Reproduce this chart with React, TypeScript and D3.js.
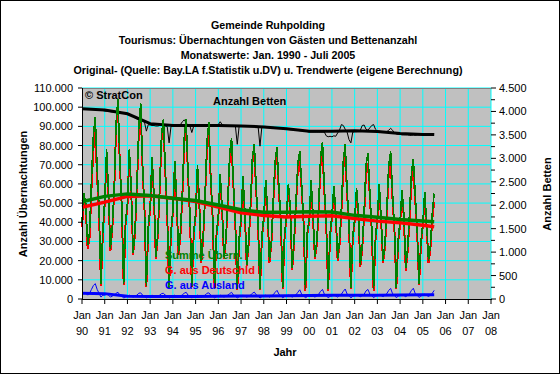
import React from 'react';
import * as d3 from 'd3';

// Monthly values in thousands, Jan 1990 - Jul 2005 (one row per year)
const germanGuests: number[][] = [
  [37.5, 52, 47, 26, 32, 57, 78, 87, 63, 45, 7, 34],
  [50, 75.5, 54, 25, 36.5, 56, 89, 100.5, 70, 48.5, 7.5, 39],
  [48.5, 76, 56.5, 23, 34.5, 58, 87, 98.8, 68, 46.5, 6.5, 37],
  [46.5, 72, 53.5, 21, 32.5, 56, 83.2, 91, 66, 44.5, 5.5, 35],
  [44.5, 70, 50.5, 23, 33.5, 53.8, 81, 90.5, 64, 43.5, 6.5, 33.8],
  [43.5, 68, 48.5, 19, 31.5, 53, 79, 88.8, 62, 42.5, 5.5, 32.8],
  [42.5, 63, 46.5, 21, 30.5, 50, 73.2, 80.5, 58, 38.5, 4.5, 30.8],
  [40.5, 62, 44.5, 17, 28.5, 48, 71, 77.4, 55.8, 38.5, 4.5, 31.8],
  [41.4, 60, 45.4, 19, 28.4, 49.8, 68.5, 74.5, 55.5, 40.4, 5.4, 32.7],
  [42.4, 58, 46.4, 15, 29.4, 48.8, 67.5, 72.2, 57.5, 40.4, 4.4, 33.7],
  [40.4, 59.8, 42.4, 21, 28.4, 47.5, 70, 77, 55.5, 38.2, 4.4, 32.6],
  [42.4, 56.8, 44.4, 20, 28.2, 45.5, 68, 75.8, 54.4, 38.2, 5.4, 31.6],
  [40.3, 55.8, 43.3, 16.8, 26.2, 43.5, 65.8, 71, 53.4, 36.2, 4.3, 30.5],
  [41.2, 57.6, 40.2, 18.8, 27, 45.2, 65.5, 71.5, 52.2, 36, 5.3, 29.5],
  [39.2, 54.5, 42.2, 14.8, 25, 42.2, 61.5, 67.4, 51.2, 35, 7.2, 28.4],
  [38.1, 53.5, 38.1, 18.7, 26, 42, 50.5],
];

const foreignGuests: number[][] = [
  [2.5, 3, 3, 2, 3, 5, 7, 8, 5, 3, 1, 2],
  [2, 2.5, 2, 1, 1.5, 2, 3, 3.5, 2, 1.5, 0.5, 1],
  [1.5, 2, 1.5, 1, 1.5, 2, 3, 3.2, 2, 1.5, 0.5, 1],
  [1.5, 2, 1.5, 1, 1.5, 2, 2.8, 3, 2, 1.5, 0.5, 1],
  [1.5, 2, 1.5, 1, 1.5, 2.2, 3, 3.5, 2, 1.5, 0.5, 1.2],
  [1.5, 2, 1.5, 1, 1.5, 2, 3, 3.2, 2, 1.5, 0.5, 1.2],
  [1.5, 2, 1.5, 1, 1.5, 2, 2.8, 3.5, 2, 1.5, 0.5, 1.2],
  [1.5, 2, 1.5, 1, 1.5, 2, 3, 3.6, 2.2, 1.5, 0.5, 1.2],
  [1.6, 2, 1.6, 1, 1.6, 2.2, 3.5, 4.5, 2.5, 1.6, 0.6, 1.3],
  [1.6, 2, 1.6, 1, 1.6, 2.2, 3.5, 4.8, 2.5, 1.6, 0.6, 1.3],
  [1.6, 2.2, 1.6, 1, 1.6, 2.5, 4, 5, 2.5, 1.8, 0.6, 1.4],
  [1.6, 2.2, 1.6, 1, 1.8, 2.5, 4, 5.2, 2.6, 1.8, 0.6, 1.4],
  [1.7, 2.2, 1.7, 1.2, 1.8, 2.5, 4.2, 5, 2.6, 1.8, 0.7, 1.5],
  [1.8, 2.4, 1.8, 1.2, 2, 2.8, 4.5, 5.5, 2.8, 2, 0.7, 1.5],
  [1.8, 2.5, 1.8, 1.2, 2, 2.8, 4.5, 5.6, 2.8, 2, 0.8, 1.6],
  [1.9, 2.5, 1.9, 1.3, 2, 3, 4.5],
];

const totalGuests: number[][] = [
  [40, 55, 50, 28, 35, 62, 85, 95, 68, 48, 8, 36],
  [52, 78, 56, 26, 38, 58, 92, 104, 72, 50, 8, 40],
  [50, 78, 58, 24, 36, 60, 90, 102, 70, 48, 7, 38],
  [48, 74, 55, 22, 34, 58, 86, 94, 68, 46, 6, 36],
  [46, 72, 52, 24, 35, 56, 84, 94, 66, 45, 7, 35],
  [45, 70, 50, 20, 33, 55, 82, 92, 64, 44, 6, 34],
  [44, 65, 48, 22, 32, 52, 76, 84, 60, 40, 5, 32],
  [42, 64, 46, 18, 30, 50, 74, 81, 58, 40, 5, 33],
  [43, 62, 47, 20, 30, 52, 72, 79, 58, 42, 6, 34],
  [44, 60, 48, 16, 31, 51, 71, 77, 60, 42, 5, 35],
  [42, 62, 44, 22, 30, 50, 74, 82, 58, 40, 5, 34],
  [44, 59, 46, 21, 30, 48, 72, 81, 57, 40, 6, 33],
  [42, 58, 45, 18, 28, 46, 70, 76, 56, 38, 5, 32],
  [43, 60, 42, 20, 29, 48, 70, 77, 55, 38, 6, 31],
  [41, 57, 44, 16, 27, 45, 66, 73, 54, 37, 8, 30],
  [40, 56, 40, 20, 28, 45, 55],
];

// beds (right axis), monthly
const beds: number[][] = [
  [4060, 4060, 4055, 4050, 4050, 4045, 4040, 4040, 4035, 4030, 4020, 4020],
  [4010, 4005, 4000, 3995, 3990, 3990, 4000, 4010, 3990, 3970, 3960, 3950],
  [3940, 3930, 3910, 3890, 3860, 3840, 3820, 3800, 3790, 3770, 3580, 3720],
  [3710, 3700, 3700, 3690, 3690, 3700, 3700, 3700, 3690, 3680, 3330, 3680],
  [3690, 3690, 3690, 3700, 3720, 3780, 3820, 3760, 3700, 3690, 3550, 3690],
  [3690, 3690, 3690, 3700, 3700, 3700, 3700, 3700, 3690, 3690, 3680, 3690],
  [3720, 3780, 3720, 3700, 3700, 3700, 3700, 3700, 3690, 3690, 3300, 3690],
  [3690, 3690, 3690, 3690, 3690, 3690, 3690, 3690, 3690, 3680, 3260, 3680],
  [3680, 3680, 3670, 3670, 3660, 3660, 3650, 3650, 3640, 3640, 3630, 3630],
  [3620, 3620, 3610, 3610, 3600, 3600, 3600, 3590, 3590, 3580, 3580, 3570],
  [3560, 3560, 3560, 3560, 3560, 3560, 3560, 3560, 3560, 3480, 3460, 3470],
  [3460, 3480, 3470, 3540, 3600, 3720, 3700, 3620, 3560, 3400, 3330, 3560],
  [3570, 3570, 3580, 3600, 3700, 3710, 3620, 3600, 3650, 3700, 3720, 3620],
  [3580, 3580, 3570, 3570, 3570, 3570, 3600, 3640, 3600, 3540, 3520, 3510],
  [3510, 3500, 3500, 3500, 3500, 3490, 3490, 3500, 3490, 3500, 3500, 3500],
  [3500, 3500, 3500, 3500, 3500, 3510, 3520],
];

// trend values at each January 1990..2005 and at Jul 2005
const trendYears = [1990, 1991, 1992, 1993, 1994, 1995, 1996, 1997, 1998, 1999, 2000, 2001, 2002, 2003, 2004, 2005, 2005.5];
const trendTotal = [50.7, 53.5, 54.8, 54, 52.5, 51.3, 49, 46.5, 45.2, 45.2, 45.5, 45.4, 43.6, 42.6, 41.5, 40.7, 40.3];
const trendGerman = [47.8, 50.5, 53.5, 53.8, 52.5, 50.8, 48, 45, 43.5, 42.8, 43.2, 43.4, 42, 40.6, 39.8, 38.5, 37.7];
const trendForeign = [3.0, 2.8, 1.4, 1.3, 1.3, 1.3, 1.4, 1.5, 1.6, 1.7, 1.8, 1.9, 1.9, 2.0, 2.1, 2.2, 2.2];
const trendBeds = [4060, 4030, 3950, 3740, 3700, 3700, 3700, 3690, 3670, 3630, 3580, 3580, 3590, 3570, 3530, 3510, 3510];

const xYears = d3.range(1990, 2009);
const leftTicks = d3.range(0, 110001, 10000);
const rightTicks = d3.range(0, 4501, 500);
const rightMinor = d3.range(250, 4500, 500);

const titles = [
  'Gemeinde Ruhpolding',
  'Tourismus: Übernachtungen von Gästen und Bettenanzahl',
  'Monatswerte: Jan. 1990 - Juli 2005',
  'Original- (Quelle: Bay.LA f.Statistik u.DV) u. Trendwerte (eigene Berechnung)',
];

const de = d3.formatLocale({ decimal: ',', thousands: '.', grouping: [3], currency: ['', ''] });
const fmt = de.format(',');

const FONT = '"Liberation Sans", Arial, sans-serif';

const App: React.FC = () => {
  const left = 82, right = 491, top = 88, bottom = 299;
  const x = d3.scaleLinear().domain([1990, 2008]).range([left, right]);
  const yL = d3.scaleLinear().domain([0, 110000]).range([bottom, top]);
  const yR = d3.scaleLinear().domain([0, 4500]).range([bottom, top]);

  const monthly = (rows: number[][], k: number) =>
    rows.flat().map((v, i) => [1990 + i / 12, v * k] as [number, number]);
  const trend = (vals: number[], k: number) =>
    vals.map((v, i) => [trendYears[i], v * k] as [number, number]);

  const lineL = d3.line<[number, number]>().x((d) => x(d[0])).y((d) => yL(d[1]));
  const lineR = d3.line<[number, number]>().x((d) => x(d[0])).y((d) => yR(d[1]));

  return (
    <svg width={560} height={374} style={{ position: 'absolute', left: 0, top: 0, fontFamily: FONT }}>
      <rect x={0.5} y={0.5} width={559} height={373} fill='#fff' stroke='#000' />
      {titles.map((t, i) => (
        <text key={i} x={268} y={29 + i * 15} textAnchor='middle' fontSize={10.7} fontWeight='bold'>
          {t}
        </text>
      ))}

      <rect x={left} y={top} width={right - left} height={bottom - top} fill='#c0c0c0' />
      {leftTicks.slice(1).map((t) => (
        <line key={t} x1={left} x2={right} y1={yL(t)} y2={yL(t)} stroke='#00ffff' />
      ))}
      {xYears.slice(1).map((yr) => (
        <line key={yr} x1={x(yr)} x2={x(yr)} y1={top} y2={bottom} stroke='#00ffff' />
      ))}
      <line x1={left} x2={right} y1={top + 0.5} y2={top + 0.5} stroke='#808080' />

      {/* beds */}
      <path d={lineR(monthly(beds, 1)) ?? ''} fill='none' stroke='#000' strokeWidth={1} />
      <path d={lineR(trend(trendBeds, 1)) ?? ''} fill='none' stroke='#000' strokeWidth={3} />

      {/* guests */}
      <path d={lineL(monthly(germanGuests, 1000)) ?? ''} fill='none' stroke='#ff0000' strokeWidth={2} shapeRendering='crispEdges' />
      <path d={lineL(monthly(totalGuests, 1000)) ?? ''} fill='none' stroke='#008000' strokeWidth={1.6} shapeRendering='crispEdges' />
      <path d={lineL(trend(trendGerman, 1000)) ?? ''} fill='none' stroke='#ff0000' strokeWidth={3.5} />
      <path d={lineL(trend(trendTotal, 1000)) ?? ''} fill='none' stroke='#008000' strokeWidth={3.5} />
      <path d={lineL(monthly(foreignGuests, 1000)) ?? ''} fill='none' stroke='#0000ff' strokeWidth={1} />
      <path d={lineL(trend(trendForeign, 1000)) ?? ''} fill='none' stroke='#0000ff' strokeWidth={3} />

      {/* left axis */}
      <line x1={left + 0.5} x2={left + 0.5} y1={top} y2={bottom} stroke='#000' />
      {leftTicks.map((t) => (
        <g key={t}>
          <line x1={left - 4} x2={left} y1={yL(t)} y2={yL(t)} stroke='#000' />
          <text x={left - 9} y={yL(t) + 4} textAnchor='end' fontSize={11}>
            {fmt(t)}
          </text>
        </g>
      ))}
      {/* right axis */}
      {rightTicks.map((t) => (
        <g key={t}>
          <line x1={right} x2={right + 5} y1={yR(t)} y2={yR(t)} stroke='#000' />
          <text x={right + 8} y={yR(t) + 4} fontSize={11}>
            {fmt(t)}
          </text>
        </g>
      ))}
      {rightMinor.map((t) => (
        <line key={t} x1={right} x2={right + 4} y1={yR(t)} y2={yR(t)} stroke='#000' />
      ))}
      {/* bottom axis */}
      <line x1={left} x2={right + 1} y1={bottom + 0.5} y2={bottom + 0.5} stroke='#000' />
      {xYears.map((yr) => (
        <g key={yr}>
          <line x1={x(yr)} x2={x(yr)} y1={bottom} y2={bottom + 5} stroke='#000' />
          <text x={x(yr)} y={319} textAnchor='middle' fontSize={11}>
            Jan
          </text>
          <text x={x(yr)} y={335} textAnchor='middle' fontSize={11}>
            {String(yr % 100).padStart(2, '0')}
          </text>
        </g>
      ))}

      <text x={285} y={356} textAnchor='middle' fontSize={11} fontWeight='bold'>
        Jahr
      </text>
      <text transform='translate(27,194) rotate(-90)' textAnchor='middle' fontSize={11} fontWeight='bold'>
        Anzahl Übernachtungen
      </text>
      <text transform='translate(551,194) rotate(-90)' textAnchor='middle' fontSize={11} fontWeight='bold'>
        Anzahl Betten
      </text>

      <text x={85} y={99} fontSize={11} fontWeight='bold'>
        © StratCon
      </text>
      <text x={213} y={105} fontSize={11} fontWeight='bold'>
        Anzahl Betten
      </text>
      <text x={165} y={259} fontSize={11} fontWeight='bold' fill='#008000'>
        Summe Übern.
      </text>
      <text x={165} y={274} fontSize={11} fontWeight='bold' fill='#ff0000'>
        G. aus Deutschld
      </text>
      <text x={165} y={289} fontSize={11} fontWeight='bold' fill='#0000ff'>
        G. aus Ausland
      </text>
    </svg>
  );
};

export default App;
